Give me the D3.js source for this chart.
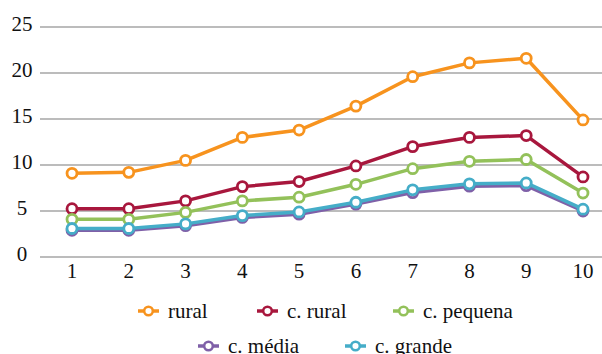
<!DOCTYPE html>
<html><head><meta charset="utf-8">
<script src="https://cdn.jsdelivr.net/npm/d3@7"></script>
<style>body{margin:0;background:#fff}svg{display:block}
svg text{font-family:"Liberation Serif","Tinos","Times New Roman","Times","Nimbus Roman","Nimbus Roman No9 L","FreeSerif","Noto Serif","DejaVu Serif","Noto Serif CJK SC",serif;font-size:21px;fill:#111}</style>
</head><body><svg id="c" width="602" height="354"></svg>
<script>
const categories = [1,2,3,4,5,6,7,8,9,10];
const yTicks = [0,5,10,15,20,25];
const seriesNames = ["rural","c. rural","c. pequena","c. média","c. grande"];
const rural     = [9.1, 9.2, 10.5, 13.0, 13.8, 16.4, 19.6, 21.1, 21.6, 14.9];
const cRural    = [5.25, 5.25, 6.1, 7.65, 8.2, 9.9, 12.0, 13.0, 13.2, 8.7];
const cPequena  = [4.1, 4.1, 4.85, 6.1, 6.5, 7.9, 9.6, 10.4, 10.6, 6.95];
const cMedia    = [2.9, 2.9, 3.4, 4.3, 4.65, 5.75, 7.0, 7.7, 7.75, 5.0];
const cGrande   = [3.1, 3.1, 3.6, 4.5, 4.9, 5.95, 7.3, 7.95, 8.05, 5.2];
const colors = ["#F7931E","#A8173D","#93C15A","#7F60A8","#45ADC8"];
const seriesVals = [rural, cRural, cPequena, cMedia, cGrande];

const svg = d3.select("#c");
const x = d3.scalePoint().domain(categories).range([72, 583]);
const y = d3.scaleLinear().domain([0,25]).range([257, 27]);

svg.append("g").selectAll("line").data(yTicks).join("line")
  .attr("x1", 40).attr("x2", 602)
  .attr("y1", d=>y(d)).attr("y2", d=>y(d))
  .attr("stroke", "#A6A6A6").attr("stroke-width", 1.5);

svg.append("g").selectAll("text").data(yTicks).join("text")
  .attr("x", 22).attr("y", d=>y(d)+4)
  .attr("text-anchor","middle").text(d=>d);

svg.append("g").selectAll("text").data(categories).join("text")
  .attr("x", d=>x(d)).attr("y", 278)
  .attr("text-anchor","middle").text(d=>d);

const line = d3.line().x((d,i)=>x(categories[i])).y(d=>y(d));
seriesVals.forEach((vals, k) => {
  const g = svg.append("g");
  g.append("path").attr("d", line(vals)).attr("fill","none")
    .attr("stroke", colors[k]).attr("stroke-width", 3.5).attr("stroke-linejoin","round");
  g.selectAll("circle").data(vals).join("circle")
    .attr("cx",(d,i)=>x(categories[i])).attr("cy",d=>y(d)).attr("r",5)
    .attr("fill","#fff").attr("stroke",colors[k]).attr("stroke-width",2.8);
});

const legendPos = [[138,311],[257,311],[393,311],[198,346],[345,346]];
seriesNames.forEach((name,k)=>{
  const [lx,ly] = legendPos[k];
  const g = svg.append("g");
  g.append("line").attr("x1",lx).attr("x2",lx+21).attr("y1",ly).attr("y2",ly)
    .attr("stroke",colors[k]).attr("stroke-width",3.5);
  g.append("circle").attr("cx",lx+10.5).attr("cy",ly).attr("r",4.3)
    .attr("fill","#fff").attr("stroke",colors[k]).attr("stroke-width",2.5);
  g.append("text").attr("x",lx+30).attr("y",ly+7).text(name);
});
</script></body></html>
